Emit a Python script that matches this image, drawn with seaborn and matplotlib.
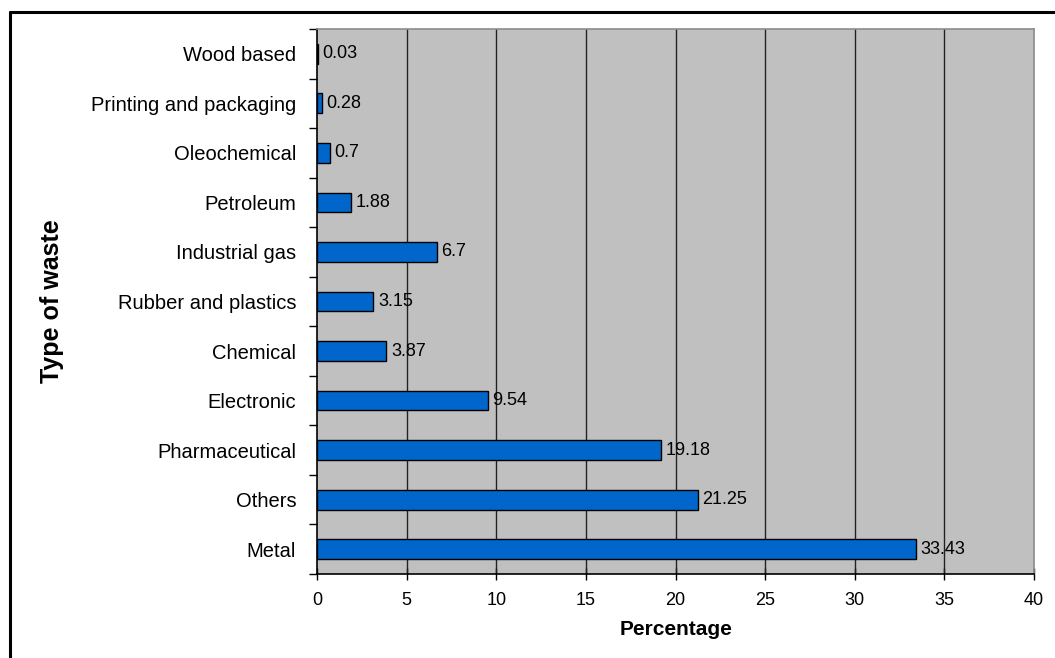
import matplotlib
matplotlib.use("Agg")
import matplotlib.pyplot as plt
from matplotlib.lines import Line2D
import seaborn as sns
import pandas as pd
import numpy as np

# Waste categories, listed top to bottom, and their share in percent
categories = ["Wood based", "Printing and packaging", "Oleochemical", "Petroleum",
              "Industrial gas", "Rubber and plastics", "Chemical", "Electronic",
              "Pharmaceutical", "Others", "Metal"]
percentages = [0.03, 0.28, 0.7, 1.88, 6.7, 3.15, 3.87, 9.54, 19.18, 21.25, 33.43]
value_labels = ["0.03", "0.28", "0.7", "1.88", "6.7", "3.15", "3.87", "9.54",
                "19.18", "21.25", "33.43"]
x_ticks = [0, 5, 10, 15, 20, 25, 30, 35, 40]

sns.set_theme(style="white")
plt.rcParams["font.family"] = ["Liberation Sans", "DejaVu Sans"]
plt.rcParams["text.color"] = "black"
plt.rcParams["axes.labelcolor"] = "black"
plt.rcParams["xtick.color"] = "black"
plt.rcParams["ytick.color"] = "black"

df = pd.DataFrame({"Type": categories, "Percentage": percentages})

fig = plt.figure(figsize=(10.55, 6.58), dpi=100)
ax = fig.add_axes([0.3005, 0.1277, 0.6796, 0.8282])
ax.set_facecolor("#C0C0C0")

sns.barplot(data=df, x="Percentage", y="Type", order=categories, orient="h",
            color="#0066CC", saturation=1, edgecolor="black", linewidth=1.0,
            width=0.4, ax=ax, zorder=3)

ax.set_xlim(0, 40)
ax.set_ylim(len(categories) - 0.5, -0.5)

# vertical gridlines
ax.set_xticks(x_ticks)
ax.set_xticklabels([str(t) for t in x_ticks], fontsize=13)
for t in x_ticks[1:-1]:
    ax.axvline(t, color="#222222", linewidth=1.0, zorder=1)

# category labels centred on bars, tick marks between categories
ax.set_yticks(np.arange(-0.5, len(categories), 1.0))
ax.set_yticklabels([])
ax.set_yticks(np.arange(len(categories)), minor=True)
ax.set_yticklabels(categories, minor=True, fontsize=14.5)
ax.tick_params(axis="y", which="minor", length=0, pad=15)
ax.tick_params(axis="y", which="major", length=6, width=1, color="black", left=True)
ax.tick_params(axis="x", which="major", length=8, width=1, color="black",
               bottom=True, direction="inout", pad=9)

for spine in ["left", "bottom"]:
    ax.spines[spine].set_color("black")
    ax.spines[spine].set_linewidth(1.2)
for spine in ["top", "right"]:
    ax.spines[spine].set_color("#8C8C8C")
    ax.spines[spine].set_linewidth(1.2)

# value annotations at bar ends
for i, (v, lab) in enumerate(zip(percentages, value_labels)):
    ax.text(v + 0.25, i, lab, va="center", ha="left", fontsize=13,
            color="black", zorder=4)

ax.set_xlabel("Percentage", fontsize=15, fontweight="bold", va="center")
ax.xaxis.set_label_coords(0.5007, -0.1028)
ax.set_ylabel("Type of waste", fontsize=18, fontweight="bold", va="center")
ax.yaxis.set_label_coords(-0.3696, 0.5)

# outer frame lines along top and left of the figure
fig.add_artist(Line2D([10 / 1055, 10 / 1055], [0, 1 - 12 / 658],
                      transform=fig.transFigure, color="black", linewidth=2.2))
fig.add_artist(Line2D([10 / 1055, 1], [1 - 12 / 658, 1 - 12 / 658],
                      transform=fig.transFigure, color="black", linewidth=2.2))

fig.savefig("out.png", dpi=100)
